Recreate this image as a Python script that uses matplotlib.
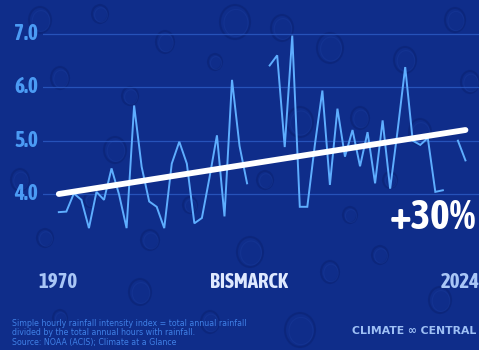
import matplotlib.pyplot as plt
from matplotlib import font_manager as fm
from matplotlib.patches import Ellipse
import numpy as np

# hourly rainfall intensity index, Bismarck (mm/hr); NaN = missing year
years = np.arange(1970, 2025)
intensity = [3.66, 3.67, 4.01, 3.89, 3.36, 4.04, 3.89, 4.48, 3.99, 3.36,
             5.66, 4.51, 3.86, 3.76, 3.36, 4.57, 4.98, 4.57, 3.45, 3.55,
             4.30, 5.10, 3.58, 6.14, 4.90, 4.20, np.nan, np.nan, 6.41, 6.60,
             4.88, 6.97, 3.76, 3.76, 4.92, 5.94, 4.17, 5.60, 4.70, 5.20,
             4.52, 5.16, 4.20, 5.38, 4.10, 5.20, 6.38, 5.00, 4.92, 5.05,
             4.04, 4.07, np.nan, 5.00, 4.63]
trend_start = 4.0
pct_change = 30
trend_end = trend_start * (1 + pct_change / 100)
yticks = [4.0, 5.0, 6.0, 7.0]
city = "BISMARCK"

bg = '#0f2d8a'
tick_col = '#4b9bf4'
line_col = '#5eaeff'

# raindrop backdrop: x, y, width, height in pixels
drops = [(40, 20, 22, 26), (100, 14, 16, 18), (235, 22, 30, 34), (165, 42, 18, 22),
         (282, 28, 22, 26), (330, 48, 26, 30), (405, 60, 22, 26), (60, 78, 18, 22),
         (130, 96, 16, 18), (215, 62, 14, 16), (300, 122, 26, 30), (45, 238, 16, 18),
         (115, 150, 22, 26), (360, 118, 18, 22), (420, 132, 22, 26), (190, 205, 14, 16),
         (250, 252, 26, 30), (330, 272, 18, 22), (140, 292, 22, 26), (60, 318, 14, 16),
         (300, 330, 30, 34), (440, 300, 22, 26), (210, 322, 18, 22), (380, 255, 16, 18),
         (20, 180, 18, 22), (470, 82, 18, 22), (150, 240, 18, 20), (390, 180, 14, 16),
         (265, 180, 16, 18), (90, 200, 12, 14), (455, 20, 20, 24), (350, 215, 14, 16)]


def narrow_font():
    # look for any installed condensed / narrow face, bold preferred
    hits = []
    for f in fm.fontManager.ttflist:
        nm = f.name.lower()
        st = str(f.stretch).lower()
        if 'narrow' in nm or 'condensed' in nm or 'condensed' in st:
            hits.append(f)
    if not hits:
        return None
    hits.sort(key=lambda f: (f.weight not in ('bold', 700), f.name))
    return fm.FontProperties(fname=hits[0].fname)


cond = narrow_font()
if cond is None:
    cond = fm.FontProperties(family='Roboto', weight='bold')
    shrink = 0.8
else:
    shrink = 1.0

fig = plt.figure(figsize=(4.79, 3.5), dpi=100, facecolor=bg)
W, H = 479, 350

back = fig.add_axes([0, 0, 1, 1])
back.set_xlim(0, W)
back.set_ylim(H, 0)
back.axis('off')
for x, y, w, h in drops:
    back.add_patch(Ellipse((x, y), w, h, facecolor='none', edgecolor='#0a2170',
                           lw=1.5, alpha=0.5))
    back.add_patch(Ellipse((x + 1, y + 1), w * 0.8, h * 0.8, facecolor='none',
                           edgecolor='#1a3c9c', lw=0.8, alpha=0.4))

# axes placed in pixel terms: gridlines from x=43 to the right edge
ax = fig.add_axes([43 / W, 1 - 242 / H, (W - 43) / W, (242 - 18) / H])
ax.patch.set_alpha(0)
ax.set_xlim(1967.9, 2025.8)
ax.set_ylim(3.1, 7.3)

for v in yticks:
    ax.axhline(v, color='#2c5cc6', lw=0.9, alpha=0.8, zorder=1)

ax.plot(years, intensity, color=line_col, lw=1.4, zorder=2,
        solid_joinstyle='miter')
ax.plot([years[0], years[-1]], [trend_start, trend_end], color='white',
        lw=4.2, solid_capstyle='round', zorder=3)

for s in ax.spines.values():
    s.set_visible(False)
ax.set_xticks([])
ax.set_yticks([])


def label(x, y, s, size, color, ha='center'):
    fp = cond.copy()
    fp.set_size(size * shrink)
    fig.text(x / W, 1 - y / H, s, ha=ha, va='center', color=color,
             fontproperties=fp)


for v in yticks:
    label(38, 34 + (7.0 - v) * 53.4, f'{v:.1f}', 15.5, tick_col, ha='right')

label(476, 218, f'+{pct_change}%', 30, 'white', ha='right')

label(58, 282, str(years[0]), 15, '#a9c6f6')
label(249, 282, city, 15, '#dfe9ff')
label(480, 282, str(years[-1]), 15, '#a9c6f6', ha='right')

note = ("Simple hourly rainfall intensity index = total annual rainfall\n"
        "divided by the total annual hours with rainfall.\n"
        "Source: NOAA (ACIS); Climate at a Glance")
fig.text(12 / W, 1 - 319 / H, note, ha='left', va='top', color='#3f80e6',
         fontsize=5.7, linespacing=1.05, family='DejaVu Sans')

fig.text(414 / W, 1 - 331 / H, 'CLIMATE \u221e CENTRAL', ha='center',
         va='center', color='#9ec0f5', fontsize=7.8, fontweight='bold',
         family='DejaVu Sans')

fig.savefig('out.png', dpi=100, facecolor=bg)
